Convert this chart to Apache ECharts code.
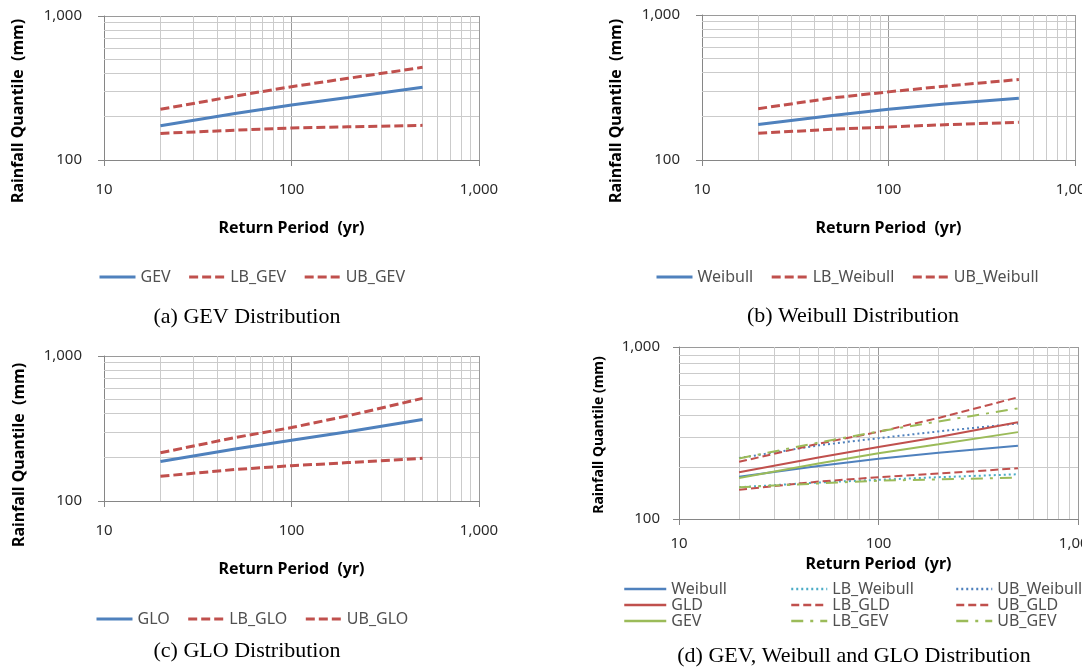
<!DOCTYPE html>
<html>
<head>
<meta charset="utf-8">
<title>Rainfall quantiles</title>
<script src="https://cdn.jsdelivr.net/npm/echarts@6/dist/echarts.min.js"></script>
<style>
  html, body { margin: 0; padding: 0; background: #fff; }
  .panel { position: absolute; }
</style>
</head>
<body>
<div id="pa" class="panel" style="left:0;top:0;width:541px;height:334px"></div>
<div id="pb" class="panel" style="left:541px;top:0;width:541px;height:334px"></div>
<div id="pc" class="panel" style="left:0;top:334px;width:541px;height:333px"></div>
<div id="pd" class="panel" style="left:541px;top:334px;width:541px;height:333px"></div>
<script>
// return periods (yr) and rainfall quantiles (mm)
const returnPeriods = [20, 50, 100, 200, 500]
const gev = [173, 210, 241, 272, 320]
const lbGev = [153, 161, 167, 170, 174]
const ubGev = [225, 278, 323, 369, 440]
const weibull = [176, 203, 224, 243, 267]
const lbWeibull = [153, 163, 169, 175, 182]
const ubWeibull = [226, 268, 295, 323, 359]
const glo = [187, 228, 262, 300, 365]
const lbGlo = [148, 165, 175, 184, 197]
const ubGlo = [215, 274, 321, 387, 510]

// minor log grid lines
const xMinorTicks = [20, 30, 40, 50, 60, 70, 80, 90, 200, 300, 400, 500, 600, 700, 800, 900]
const yMinorTicks = [200, 300, 400, 500, 600, 700, 800, 900]

const SANS = 'Noto Sans'
const SERIF = 'Liberation Serif'
const BLUE = '#4F81BD'
const RED = '#C0504D'
const GREEN = '#9BBB59'
const TEAL = '#4BACC6'

function pairs(values) {
  return returnPeriods.map((t, i) => [t, values[i]])
}

function fmt(v) {
  return Number(v).toLocaleString('en-US')
}

function line(name, values, color, type, width) {
  return {
    name: name,
    type: 'line',
    data: pairs(values),
    symbol: 'none',
    silent: true,
    emphasis: { disabled: true },
    lineStyle: { color: color, type: type, width: width },
    itemStyle: { color: color }
  }
}

function buildOption(p) {
  const series = p.series.slice()
  // light minor grid behind the curves
  series[0] = Object.assign({}, series[0], {
    markLine: {
      z: 1,
      silent: true,
      symbol: ['none', 'none'],
      label: { show: false },
      lineStyle: { color: '#cbcbcb', type: 'solid', width: 1 },
      emphasis: { disabled: true },
      data: xMinorTicks.map(v => ({ xAxis: v })).concat(yMinorTicks.map(v => ({ yAxis: v })))
    }
  })
  return {
    animation: false,
    grid: Object.assign({ outerBoundsMode: 'none', containLabel: false }, p.grid),
    xAxis: {
      type: 'log',
      logBase: 10,
      min: 10,
      max: 1000,
      name: p.xName,
      nameLocation: 'middle',
      nameGap: p.xNameGap,
      nameTextStyle: { fontFamily: SANS, fontWeight: 'bold', fontSize: p.xTitleSize, color: '#000' },
      axisLine: { lineStyle: { color: '#868686' } },
      axisTick: { show: true, length: 6, lineStyle: { color: '#868686' } },
      axisLabel: { margin: p.xLabelMargin, fontFamily: SANS, fontSize: 15, color: '#2b2b2b', formatter: fmt },
      splitLine: { show: true, lineStyle: { color: '#9a9a9a' } }
    },
    yAxis: {
      type: 'log',
      logBase: 10,
      min: 100,
      max: 1000,
      axisLine: { show: true, lineStyle: { color: '#868686' } },
      axisTick: { show: true, length: 6, lineStyle: { color: '#868686' } },
      axisLabel: { margin: p.yLabelMargin, fontFamily: SANS, fontSize: 15, color: '#2b2b2b', formatter: fmt },
      splitLine: { show: true, lineStyle: { color: '#9a9a9a' } }
    },
    legend: p.legend,
    graphic: [
      {
        type: 'text',
        x: p.yTitle.x,
        y: p.yTitle.y,
        rotation: Math.PI / 2,
        silent: true,
        style: {
          text: p.yTitle.text,
          font: 'bold ' + p.yTitleSize + 'px "' + SANS + '"',
          fill: '#000',
          align: 'center',
          verticalAlign: 'middle',
          textAlign: 'center',
          textVerticalAlign: 'middle'
        }
      },
      {
        type: 'text',
        x: p.caption.x,
        y: p.caption.y,
        silent: true,
        style: {
          text: p.caption.text,
          font: '22px "' + SERIF + '"',
          fill: '#000',
          align: 'center',
          verticalAlign: 'middle',
          textAlign: 'center',
          textVerticalAlign: 'middle'
        }
      }
    ],
    series: series
  }
}

// the legend keeps the dashed line but hides the point marker
const legendItemStyle = { opacity: 0, borderWidth: 0 }

function rowLegend(left, top, names) {
  return {
    left: left,
    top: top,
    padding: 0,
    itemWidth: 36,
    itemHeight: 10,
    itemGap: 17,
    selectedMode: false,
    itemStyle: legendItemStyle,
    lineStyle: { width: 3 },
    textStyle: { fontFamily: SANS, fontSize: 16, color: '#505050' },
    data: names
  }
}

function colLegend(left, top, width, names) {
  return {
    left: left,
    top: top,
    padding: 0,
    orient: 'vertical',
    itemWidth: width,
    itemHeight: 8,
    itemGap: 0,
    selectedMode: false,
    itemStyle: legendItemStyle,
    lineStyle: { width: 2.5 },
    textStyle: { fontFamily: SANS, fontSize: 16, color: '#505050', lineHeight: 15 },
    data: names
  }
}

const dash = [9, 4]

const panels = [
  {
    el: 'pa',
    grid: { left: 104, top: 16, width: 375, height: 144 },
    xName: 'Return Period  (yr)',
    xNameGap: 60,
    xLabelMargin: 22,
    yLabelMargin: 22,
    xTitleSize: 16,
    yTitleSize: 16,
    yTitle: { text: 'Rainfall Quantile  (mm)', x: 18, y: 111 },
    caption: { text: '(a) GEV Distribution', x: 247, y: 317 },
    legend: rowLegend(98, 269, ['GEV', 'LB_GEV', 'UB_GEV']),
    series: [
      line('GEV', gev, BLUE, 'solid', 3),
      line('LB_GEV', lbGev, RED, dash, 3),
      line('UB_GEV', ubGev, RED, dash, 3)
    ]
  },
  {
    el: 'pb',
    grid: { left: 161, top: 15, width: 373, height: 145 },
    xName: 'Return Period  (yr)',
    xNameGap: 60,
    xLabelMargin: 22,
    yLabelMargin: 22,
    xTitleSize: 16,
    yTitleSize: 16,
    yTitle: { text: 'Rainfall Quantile  (mm)', x: 75, y: 111 },
    caption: { text: '(b) Weibull Distribution', x: 312, y: 316 },
    legend: rowLegend(114, 269, ['Weibull', 'LB_Weibull', 'UB_Weibull']),
    series: [
      line('Weibull', weibull, BLUE, 'solid', 3),
      line('LB_Weibull', lbWeibull, RED, dash, 3),
      line('UB_Weibull', ubWeibull, RED, dash, 3)
    ]
  },
  {
    el: 'pc',
    grid: { left: 104, top: 22, width: 375, height: 145 },
    xName: 'Return Period  (yr)',
    xNameGap: 60,
    xLabelMargin: 22,
    yLabelMargin: 22,
    xTitleSize: 16,
    yTitleSize: 16,
    yTitle: { text: 'Rainfall Quantile  (mm)', x: 19, y: 121 },
    caption: { text: '(c) GLO Distribution', x: 247, y: 317 },
    legend: rowLegend(95, 277, ['GLO', 'LB_GLO', 'UB_GLO']),
    series: [
      line('GLO', glo, BLUE, 'solid', 3),
      line('LB_GLO', lbGlo, RED, dash, 3),
      line('UB_GLO', ubGlo, RED, dash, 3)
    ]
  },
  {
    el: 'pd',
    grid: { left: 138, top: 13, width: 399, height: 172 },
    xName: 'Return Period  (yr)',
    xNameGap: 37,
    xLabelMargin: 17,
    yLabelMargin: 19,
    xTitleSize: 16,
    yTitleSize: 14,
    yTitle: { text: 'Rainfall Quantile (mm)', x: 58, y: 101 },
    caption: { text: '(d) GEV, Weibull and GLO Distribution', x: 313, y: 322 },
    legend: [
      colLegend(82, 247, 42, ['Weibull', 'GLD', 'GEV']),
      colLegend(249, 247, 36, ['LB_Weibull', 'LB_GLD', 'LB_GEV']),
      colLegend(414, 247, 36, ['UB_Weibull', 'UB_GLD', 'UB_GEV'])
    ],
    series: [
      line('Weibull', weibull, BLUE, 'solid', 2),
      line('LB_Weibull', lbWeibull, TEAL, [2, 3], 2),
      line('UB_Weibull', ubWeibull, BLUE, [2, 3], 2),
      line('GLD', glo, RED, 'solid', 2),
      line('LB_GLD', lbGlo, RED, [8, 4], 2),
      line('UB_GLD', ubGlo, RED, [8, 4], 2),
      line('GEV', gev, GREEN, 'solid', 2),
      line('LB_GEV', lbGev, GREEN, [12, 7, 3, 7], 2),
      line('UB_GEV', ubGev, GREEN, [12, 7, 3, 7], 2)
    ]
  }
]

panels.forEach(p => {
  const chart = echarts.init(document.getElementById(p.el))
  chart.setOption(buildOption(p))
})
</script>
</body>
</html>
